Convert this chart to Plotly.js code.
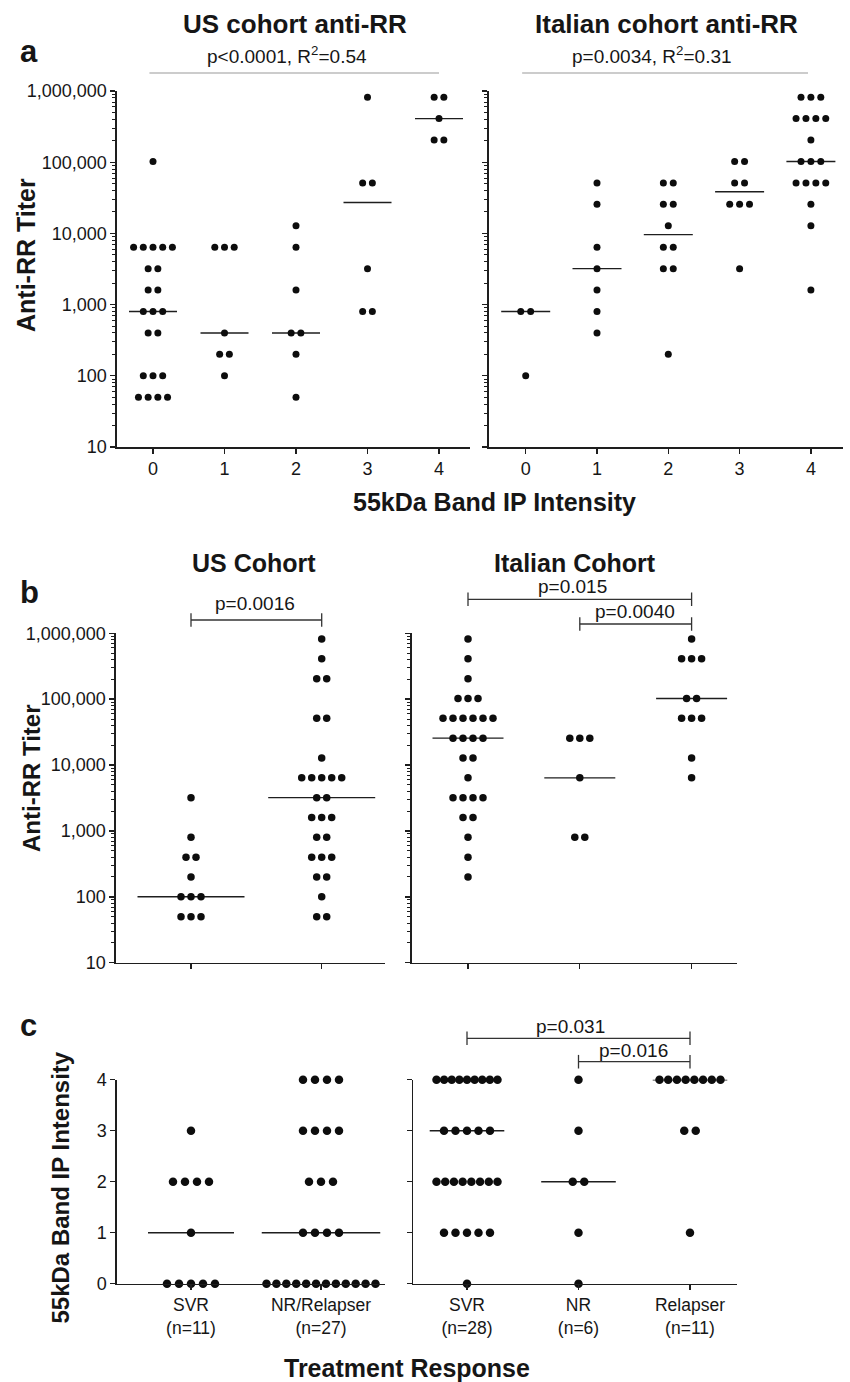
<!DOCTYPE html>
<html><head><meta charset="utf-8">
<script src="https://cdn.plot.ly/plotly-3.0.1.min.js"></script>
<style>html,body{margin:0;padding:0;background:#fff}#chart{width:850px;height:1382px}</style>
</head><body><div id="chart"></div>
<script>
// ---------------- data ----------------
const bandLevels = [0, 1, 2, 3, 4];
const bandTickText = ['0', '1', '2', '3', '4'];
const titerTickVals = [10, 100, 1000, 10000, 100000, 1000000];
const titerTickText = ['10', '100', '1,000', '10,000', '100,000', '1,000,000'];
const intensityTickVals = [0, 1, 2, 3, 4];
const intensityTickText = ['0', '1', '2', '3', '4'];

// panel a: anti-RR titer by 55kDa band IP intensity
const usBandTiters = [
  [102400, 6400, 6400, 6400, 6400, 6400, 3200, 3200, 1600, 1600, 800, 800, 800, 400, 400, 100, 100, 100, 50, 50, 50, 50],
  [6400, 6400, 6400, 400, 200, 200, 100],
  [12800, 6400, 1600, 400, 400, 200, 50],
  [819200, 51200, 51200, 3200, 800, 800],
  [819200, 819200, 409600, 204800, 204800]
];
const usBandMedians = [800, 400, 400, 27200, 409600];
const itBandTiters = [
  [800, 800, 100],
  [51200, 25600, 6400, 3200, 1600, 800, 400],
  [51200, 51200, 25600, 25600, 12800, 6400, 6400, 3200, 3200, 200],
  [102400, 102400, 51200, 51200, 25600, 25600, 25600, 3200],
  [819200, 819200, 819200, 409600, 409600, 409600, 409600, 204800, 102400, 102400, 102400, 51200, 51200, 51200, 51200, 25600, 12800, 1600]
];
const itBandMedians = [800, 3200, 9600, 38400, 102400];

// panel b: anti-RR titer by treatment response
const usRespLabels = ['SVR<br>(n=11)', 'NR/Relapser<br>(n=27)'];
const itRespLabels = ['SVR<br>(n=28)', 'NR<br>(n=6)', 'Relapser<br>(n=11)'];
const usRespTiters = [
  [3200, 800, 400, 400, 200, 100, 100, 100, 50, 50, 50],
  [819200, 409600, 204800, 204800, 51200, 51200, 12800, 6400, 6400, 6400, 6400, 6400, 3200, 3200, 1600, 1600, 1600, 800, 800, 400, 400, 400, 200, 200, 100, 50, 50]
];
const usRespTiterMedians = [100, 3200];
const itRespTiters = [
  [819200, 409600, 204800, 102400, 102400, 102400, 51200, 51200, 51200, 51200, 51200, 51200, 25600, 25600, 25600, 25600, 12800, 12800, 6400, 3200, 3200, 3200, 3200, 1600, 1600, 800, 400, 200],
  [25600, 25600, 25600, 6400, 800, 800],
  [819200, 409600, 409600, 409600, 102400, 102400, 51200, 51200, 51200, 12800, 6400]
];
const itRespTiterMedians = [25600, 6400, 102400];

// panel c: band IP intensity by treatment response
const usRespBand = [
  [3, 2, 2, 2, 2, 1, 0, 0, 0, 0, 0],
  [4, 4, 4, 4, 3, 3, 3, 3, 2, 2, 2, 1, 1, 1, 1, 0, 0, 0, 0, 0, 0, 0, 0, 0, 0, 0, 0]
];
const usRespBandMedians = [1, 1];
const itRespBand = [
  [4, 4, 4, 4, 4, 4, 4, 4, 4, 3, 3, 3, 3, 3, 2, 2, 2, 2, 2, 2, 2, 2, 1, 1, 1, 1, 1, 0],
  [4, 3, 2, 2, 1, 0],
  [4, 4, 4, 4, 4, 4, 4, 4, 3, 3, 1]
];
const itRespBandMedians = [3, 2, 4];

// ---------------- layout helpers ----------------
const W = 850, H = 1382;
const FONT = 'Liberation Sans, Arial, Helvetica, sans-serif';
const INK = '#161616';
const fx = px => px / W;
const fy = py => 1 - py / H;

const minorLog = [];
for (let e = 1; e < 6; e++) for (let d = 2; d <= 9; d++) minorLog.push(d * Math.pow(10, e));

const panels = [
  {xd: [117, 470], x0: 153, step: 71.5, yd: [91, 447], log: true, yr: [1, 6],
   groups: usBandTiters, med: usBandMedians, ytv: titerTickVals, ytt: titerTickText, showY: true,
   xtt: bandTickText, showX: true, dot: 7, base: 9.7, span: 300, half: 24},
  {xd: [489, 843], x0: 525.7, step: 71.3, yd: [91, 447], log: true, yr: [1, 6],
   groups: itBandTiters, med: itBandMedians, ytv: titerTickVals, ytt: titerTickText, showY: false,
   xtt: bandTickText, showX: true, dot: 7, base: 9.9, span: 300, half: 24.5},
  {xd: [116, 385], x0: 191, step: 130.7, yd: [633.3, 962.7], log: true, yr: [1, 6],
   groups: usRespTiters, med: usRespTiterMedians, ytv: titerTickVals, ytt: titerTickText, showY: true,
   xtt: usRespLabels, showX: false, dot: 7.5, base: 10, span: 300, half: 53.5},
  {xd: [411.7, 737.3], x0: 468, step: 111.8, yd: [633.3, 962.7], log: true, yr: [1, 6],
   groups: itRespTiters, med: itRespTiterMedians, ytv: titerTickVals, ytt: titerTickText, showY: false,
   xtt: itRespLabels, showX: false, dot: 7.5, base: 10, span: 300, half: 35.5},
  {xd: [117, 385], x0: 191, step: 130, yd: [1079.7, 1283.7], log: false, yr: [0, 4],
   groups: usRespBand, med: usRespBandMedians, ytv: intensityTickVals, ytt: intensityTickText, showY: true,
   xtt: usRespLabels, showX: true, dot: 8.5, base: 12, span: 109, half: 43},
  {xd: [413.3, 737], x0: 467, step: 111.5, yd: [1079.7, 1283.7], log: false, yr: [0, 4],
   groups: itRespBand, med: itRespBandMedians, ytv: intensityTickVals, ytt: intensityTickText, showY: false,
   xtt: itRespLabels, showX: true, dot: 8.5, base: 11.5, span: 61, half: 37.3}
];

const traces = [];
const layout = {
  width: W, height: H, margin: {l: 0, r: 0, t: 0, b: 0},
  paper_bgcolor: '#fff', plot_bgcolor: 'rgba(0,0,0,0)', showlegend: false,
  font: {family: FONT, color: INK, size: 18},
  shapes: [], annotations: []
};

panels.forEach((p, i) => {
  const s = i === 0 ? '' : String(i + 1);
  const xs = [], ys = [], mx = [], my = [];
  p.groups.forEach((vals, g) => {
    const counts = new Map();
    vals.forEach(v => counts.set(v, (counts.get(v) || 0) + 1));
    let widest = 0;
    counts.forEach((n, v) => {
      const spPx = n > 1 ? Math.min(p.base, p.span / (n - 1)) : p.base;
      widest = Math.max(widest, (n - 1) / 2 * spPx + p.dot / 2 + 0.5);
      for (let k = 0; k < n; k++) {
        xs.push(g + (k - (n - 1) / 2) * spPx / p.step);
        ys.push(v);
      }
    });
    const h = Math.max(p.half, widest) / p.step;
    mx.push(g - h, g + h, null);
    my.push(p.med[g], p.med[g], null);
  });
  traces.push({type: 'scatter', mode: 'lines', x: mx, y: my, xaxis: 'x' + s, yaxis: 'y' + s,
    line: {color: '#1e1e1e', width: 1.4}, hoverinfo: 'skip', cliponaxis: false});
  traces.push({type: 'scatter', mode: 'markers', x: xs, y: ys, xaxis: 'x' + s, yaxis: 'y' + s,
    marker: {size: p.dot, color: '#0d0d0d', line: {width: 0}}, hoverinfo: 'skip', cliponaxis: false});

  const common = {showline: true, linecolor: '#1e1e1e', linewidth: 1.6, ticks: 'outside',
    ticklen: 5, tickwidth: 1.4, tickcolor: '#1e1e1e', showgrid: false, zeroline: false,
    fixedrange: true, tickfont: {family: FONT, size: 18, color: INK}};
  const xa = Object.assign({}, common, {
    domain: [fx(p.xd[0]), fx(p.xd[1])],
    range: [(p.xd[0] - p.x0) / p.step, (p.xd[1] - p.x0) / p.step],
    anchor: 'y' + s, tickmode: 'array',
    tickvals: p.groups.map((_, g) => g), showticklabels: p.showX,
    tickfont: {family: FONT, size: i >= 4 ? 17.5 : 18, color: INK}
  });
  if (p.showX) xa.ticktext = p.xtt;
  layout['xaxis' + s] = xa;
  const ya = Object.assign({}, common, {
    domain: [fy(p.yd[1]), fy(p.yd[0])], type: p.log ? 'log' : 'linear', range: p.yr,
    anchor: 'x' + s, tickmode: 'array', tickvals: p.ytv, showticklabels: p.showY
  });
  if (p.showY) ya.ticktext = p.ytt;
  if (p.log) ya.minor = {tickmode: 'array', tickvals: minorLog, ticks: 'outside', ticklen: 3,
    tickwidth: 1, tickcolor: '#1e1e1e', showgrid: false};
  layout['yaxis' + s] = ya;
});

// ---------------- lines and brackets ----------------
function hline(xref, a, b, ypx, color, width) {
  layout.shapes.push({type: 'line', xref: xref, yref: 'paper', x0: a, x1: b, y0: fy(ypx), y1: fy(ypx),
    line: {color: color, width: width}});
}
function bracket(xref, a, b, ypx) {
  hline(xref, a, b, ypx, '#333', 1.3);
  [a, b].forEach(x => layout.shapes.push({type: 'line', xref: xref, yref: 'paper', x0: x, x1: x,
    y0: fy(ypx - 6.8), y1: fy(ypx + 6.8), line: {color: '#333', width: 1.3}}));
}
hline('x', -0.05, 4.0, 73, '#9a9a9a', 1.1);
hline('x2', -0.05, 3.96, 73, '#9a9a9a', 1.1);
bracket('x3', 0, 1, 620);
bracket('x4', 0, 2, 599.3);
bracket('x4', 1, 2, 624);
bracket('x6', 0, 2, 1038.3);
bracket('x6', 1, 2, 1061.7);

// ---------------- text ----------------
function txt(text, xpx, ypx, size, bold, angle) {
  layout.annotations.push({text: bold ? '<b>' + text + '</b>' : text, xref: 'paper', yref: 'paper',
    x: fx(xpx), y: fy(ypx), xanchor: 'center', yanchor: 'middle', showarrow: false,
    textangle: angle || 0, font: {family: FONT, size: size, color: INK}});
}
txt('a', 28.5, 51, 31, true);
txt('b', 29.5, 592, 31, true);
txt('c', 28.5, 1025, 31, true);
txt('US cohort anti-RR', 295, 24, 26, true);
txt('Italian cohort anti-RR', 666, 24, 26, true);
txt('p&lt;0.0001, R<sup>2</sup>=0.54', 287, 55, 19, false);
txt('p=0.0034, R<sup>2</sup>=0.31', 652, 55, 19, false);
txt('Anti-RR Titer', 26, 255, 25, true, -90);
txt('55kDa Band IP Intensity', 494, 502, 25, true);
txt('US Cohort', 254, 563, 25, true);
txt('Italian Cohort', 575, 563, 25, true);
txt('p=0.0016', 255, 603, 19, false);
txt('p=0.015', 572.5, 586.5, 19, false);
txt('p=0.0040', 634.5, 611, 19, false);
txt('Anti-RR Titer', 31, 778, 24, true, -90);
txt('55kDa Band IP Intensity', 60, 1187.5, 24, true, -90);
txt('p=0.031', 570, 1026.5, 19, false);
txt('p=0.016', 633.5, 1050.5, 19, false);
txt('Treatment Response', 407, 1367.5, 25, true);

Plotly.newPlot('chart', traces, layout, {staticPlot: true, displayModeBar: false});
</script>
</body></html>
